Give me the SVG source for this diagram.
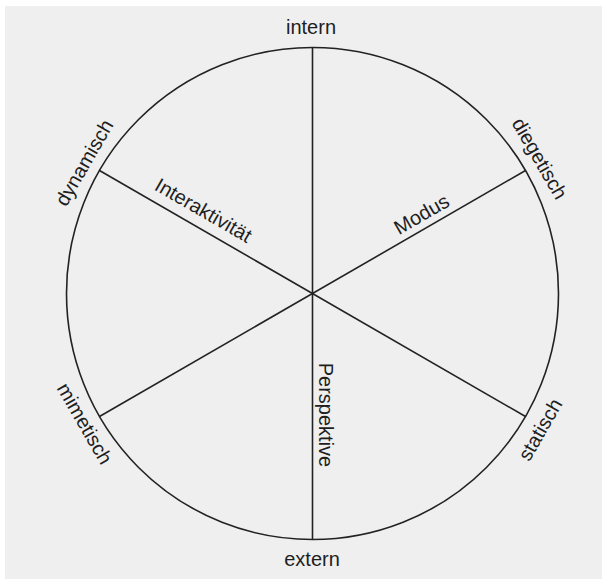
<svg xmlns="http://www.w3.org/2000/svg" width="602" height="579" viewBox="0 0 602 579">
<style>
  .lbl { font-family: "Liberation Sans", Arial, sans-serif; font-size: 20px; fill: #1e1e1e; text-anchor: middle; }
  .ln { stroke: #222; stroke-width: 1.6; fill: none; }
</style>
<rect x="0" y="0" width="602" height="579" fill="#ffffff"/>
<rect x="5" y="6" width="597" height="573" fill="#efefef"/>
<g id="connectors">
  <circle class="ln" cx="312.5" cy="293.5" r="246"/>
  <line class="ln" x1="312.5" y1="47.5" x2="312.5" y2="539.5"/>
  <line class="ln" x1="99.5" y1="170.5" x2="525.5" y2="416.5"/>
  <line class="ln" x1="525.5" y1="170.5" x2="99.5" y2="416.5"/>
</g>
<g id="intern"><text class="lbl" x="311" y="34">intern</text></g>
<g id="extern"><text class="lbl" x="312" y="566">extern</text></g>
<g id="dynamisch"><text class="lbl" transform="translate(85,163) rotate(-60)" y="6">dynamisch</text></g>
<g id="diegetisch"><text class="lbl" transform="translate(539,159) rotate(60)" y="6">diegetisch</text></g>
<g id="mimetisch"><text class="lbl" transform="translate(84,424) rotate(60)" y="6">mimetisch</text></g>
<g id="statisch"><text class="lbl" transform="translate(541,430) rotate(-60)" y="6">statisch</text></g>
<g id="interaktivitaet"><text class="lbl" transform="translate(203,211) rotate(30)" y="6">Interaktivität</text></g>
<g id="modus"><text class="lbl" transform="translate(422,215) rotate(-30)" y="6">Modus</text></g>
<g id="perspektive"><text class="lbl" transform="translate(325,415) rotate(90)" y="6">Perspektive</text></g>
</svg>
